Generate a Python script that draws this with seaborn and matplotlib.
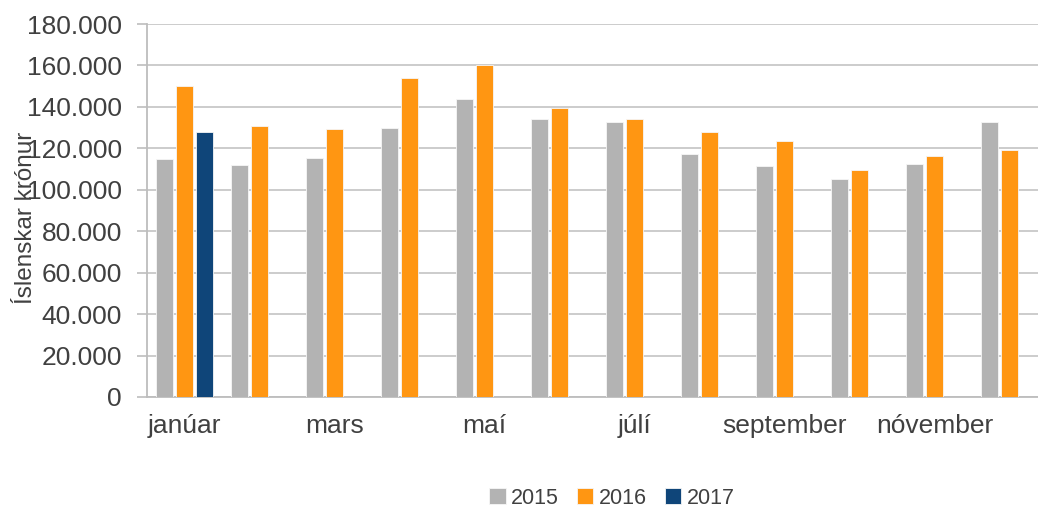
import pandas as pd
import numpy as np
import matplotlib
matplotlib.use("Agg")
import matplotlib.pyplot as plt
from matplotlib.ticker import FuncFormatter, FixedLocator
import seaborn as sns

# gögn lesin af myndinni
manudir = ["janúar", "febrúar", "mars", "apríl", "maí", "júní",
           "júlí", "ágúst", "september", "október", "nóvember", "desember"]
gildi_2015 = [115000, 112000, 115200, 129700, 144000, 134300,
              132900, 117300, 111500, 105400, 112400, 132600]
gildi_2016 = [150000, 130600, 129500, 153800, 160000, 139600,
              134300, 127900, 123500, 109700, 116500, 119200]
gildi_2017 = [128000] + [np.nan] * 11
ar = ["2015", "2016", "2017"]
litir = ["#B3B3B3", "#FF9612", "#0F4579"]

df = pd.DataFrame({
    "manudur": manudir * 3,
    "ar": [a for a in ar for _ in manudir],
    "kronur": gildi_2015 + gildi_2016 + gildi_2017,
})

sns.set_style("white")
plt.rcParams["font.family"] = ["Liberation Sans", "DejaVu Sans"]

fig = plt.figure(figsize=(10.38, 5.07), dpi=100)
# teikniflöturinn nær út fyrir hægri brún eins og á fyrirmyndinni
ax = fig.add_axes([147 / 1038, 110 / 507, 900 / 1038, 373 / 507])

sns.barplot(data=df, x="manudur", y="kronur", hue="ar", order=manudir,
            hue_order=ar, palette=litir, saturation=1, width=0.8, gap=0.15,
            edgecolor="#f6f6f6", linewidth=0.6, ax=ax, zorder=3)

ax.set_xlim(-0.5, 11.5)
ax.set_ylim(0, 180000)
ax.set_yticks(np.arange(0, 180001, 20000))
ax.yaxis.set_major_formatter(FuncFormatter(lambda v, p: f"{int(v):,}".replace(",", ".")))
ax.grid(axis="y", color="#C8C8C8", linewidth=1.3, zorder=0)
ax.set_axisbelow(True)

# merkingar á annan hvern mánuð, strik á mörkum flokka
ax.set_xticks(range(0, 12, 2))
ax.set_xticklabels(manudir[::2])
ax.xaxis.set_minor_locator(FixedLocator(np.arange(-0.5, 12, 1)))
ax.tick_params(axis="x", which="major", length=0, pad=12, labelsize=19, labelcolor="#404040")
ax.tick_params(axis="x", which="minor", length=7, width=1.2, color="#BDBDBD", direction="out")
ax.tick_params(axis="y", length=7, width=1.2, color="#BDBDBD", direction="out",
               pad=11, labelsize=19, labelcolor="#404040", left=True)

for s in ["top", "right"]:
    ax.spines[s].set_visible(False)
for s in ["left", "bottom"]:
    ax.spines[s].set_color("#BDBDBD")
    ax.spines[s].set_linewidth(1.3)

ax.set_xlabel("")
ax.set_ylabel("Íslenskar krónur", fontsize=17.5, color="#404040")
ax.yaxis.set_label_coords(-0.122, 0.48)

handles, labels = ax.get_legend_handles_labels()
ax.legend(handles, labels, loc="center", bbox_to_anchor=(612 / 1038, 9 / 507),
          bbox_transform=fig.transFigure, ncol=3, frameon=False, fontsize=15.5,
          handlelength=0.75, handleheight=0.75, handletextpad=0.25, columnspacing=0.85,
          labelcolor="#404040")

fig.savefig("out.png", dpi=100)
